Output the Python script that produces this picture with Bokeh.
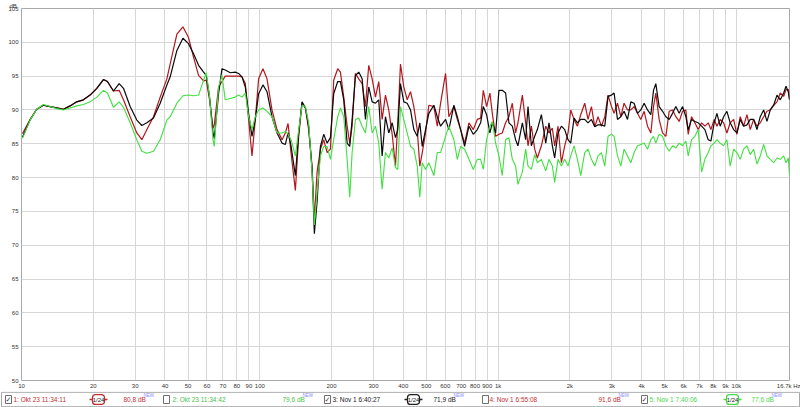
from bokeh.plotting import figure
from bokeh.models import FixedTicker, ColumnDataSource
from bokeh.layouts import column
from bokeh.embed import file_html
from bokeh.resources import INLINE
from bokeh.core.properties import value

# ---------------- data ----------------
freq = [10.1, 10.86, 11.58, 12.35, 13.17, 14.05, 14.99, 15.99, 17.05, 18.19, 19.40, 20.70,
        22.07, 22.94, 24.31, 25.69, 26.79, 28.57, 30.47, 31.99, 33.58, 35.80, 38.19, 40.74,
        42.07, 44.88, 47.58, 50.21, 52.71, 55.34, 58.08, 59.61, 61.55, 63.61, 64.41, 67.14,
        69.39, 71.61, 75.17, 78.89, 81.45, 84.18, 86.92, 89.74, 92.73, 95.74, 98.86, 103.1,
        107.2, 112.5, 118.1, 124.0, 128.0, 131.4, 135.2, 141.0, 145.6, 150.4, 155.4, 160.3,
        165.7, 169.4, 173.9, 179.6, 185.4, 191.6, 197.8,
        204.2, 212.3, 217.9, 225.0, 232.5, 238.4, 244.0, 251.9, 260.1, 268.8, 277.5, 286.5,
        296.1, 305.7, 315.6, 326.1, 336.7, 347.6, 359.3, 370.9, 379.3, 389.3, 402.0, 415.4,
        429.0, 442.9, 457.7, 469.3, 480.4, 496.0, 512.1, 537.6, 555.5, 573.6, 601.9, 621.5,
        652.3, 674.2, 696.0, 723.5, 754.3, 786.8, 817.8, 844.4,
        866.6, 894.7, 923.7, 945.4, 976.1, 1008, 1041, 1075, 1110, 1147, 1184, 1211, 1264,
        1305, 1335, 1379, 1424, 1461, 1519, 1584, 1635, 1689, 1727, 1784, 1843, 1903, 1965,
        2017, 2083, 2152, 2222, 2309, 2384, 2464, 2544, 2626, 2714, 2803, 2893, 2990, 3067,
        3169, 3272, 3378, 3491, 3604, 3721, 3845, 3969,
        4100, 4236, 4374, 4489, 4590, 4739, 4898, 5057, 5221, 5395, 5570, 5751, 5943, 6136,
        6275, 6483, 6694, 6911, 7142, 7374, 7613, 7815, 8067, 8281, 8549, 8835, 9122, 9417,
        9732, 10048, 10375, 10722, 11069, 11429, 11811, 12195, 12589, 13010, 13433, 13868,
        14332, 14798, 15276, 15788, 16145, 16507, 16700]

red_db = [86.5, 88.6, 90.1, 90.7, 90.5, 90.3, 90.1, 90.6, 91.2, 91.5, 92.2, 93.2,
          94.5, 94.2, 92.8, 92.9, 91.5, 89.0, 86.6, 85.6, 87.1, 89.0, 91.9, 94.6,
          96.8, 101.2, 102.3, 100.7, 97.8, 95.1, 94.3, 94.4, 91.5, 87.3, 87.8, 93.4,
          94.2, 95.0, 95.0, 95.0, 95.0, 94.9, 93.9, 88.6, 83.2, 88.6, 94.6, 96.1,
          94.6, 90.0, 87.1, 85.6, 86.6, 88.0, 83.7, 78.1, 86.1, 91.1, 90.3, 87.1,
          81.7, 73.9, 80.8, 84.2, 85.6, 83.7, 84.2,
          94.4, 96.1, 95.6, 91.9, 87.6, 85.1, 87.6, 95.4, 94.6, 93.9, 90.5, 96.6,
          94.6, 91.9, 94.2, 88.6, 92.2, 90.0, 86.4, 81.7, 88.1, 96.8, 93.4, 91.5,
          92.7, 90.5, 87.1, 81.7, 83.7, 86.6, 90.7, 90.5, 87.6, 91.0, 95.4, 89.0,
          90.5, 88.6, 87.1, 85.1, 88.1, 87.1, 88.6, 88.8,
          92.9, 90.5, 92.5, 89.5, 86.1, 86.4, 86.6, 88.1, 89.0, 91.0, 86.6, 88.1, 92.2,
          88.1, 84.7, 87.6, 84.2, 82.9, 84.7, 87.6, 86.6, 87.3, 84.7, 87.6, 82.2, 84.7, 86.6,
          90.0, 88.6, 87.6, 89.3, 91.0, 88.6, 90.5, 87.5, 89.0, 87.6, 89.0, 92.2, 90.5, 89.5,
          91.0, 89.0, 91.0, 90.0, 90.0, 90.5, 89.5, 88.6,
          89.8, 87.6, 86.6, 90.5, 92.5, 88.6, 86.6, 86.1, 89.8, 90.0, 89.0, 88.3, 89.8, 90.0,
          86.4, 89.0, 88.1, 87.1, 88.1, 87.6, 88.1, 87.1, 88.6, 87.6, 88.6, 88.1, 86.6, 88.1,
          88.6, 86.4, 89.0, 87.6, 89.3, 87.1, 88.6, 87.6, 88.1, 89.0, 89.8, 90.0,
          90.7, 91.2, 92.5, 92.0, 93.0, 93.0, 91.7]

black_db = [86.0, 88.5, 90.1, 90.7, 90.5, 90.3, 90.1, 90.6, 91.2, 91.5, 92.2, 93.2,
            94.5, 94.2, 92.8, 93.9, 93.2, 90.5, 88.5, 87.7, 88.1, 88.8, 91.0, 93.7,
            94.9, 98.8, 100.6, 99.8, 98.3, 96.6, 95.6, 95.1, 91.9, 86.6, 85.8, 92.4,
            96.1, 95.9, 95.5, 95.6, 95.4, 94.9, 93.4, 89.5, 86.1, 88.6, 92.4, 93.7,
            92.7, 89.0, 86.6, 85.1, 84.9, 86.6, 84.7, 80.3, 86.6, 91.2, 90.3, 87.6,
            81.2, 71.7, 76.4, 84.6, 86.4, 85.1, 85.9,
            92.4, 94.2, 94.2, 91.5, 85.1, 84.6, 88.6, 95.1, 95.6, 94.6, 88.6, 93.4,
            91.2, 91.0, 91.5, 83.2, 89.0, 86.6, 88.1, 85.9, 87.1, 93.9, 91.2, 91.0,
            90.0, 87.1, 86.1, 88.1, 84.6, 87.1, 89.5, 90.7, 89.0, 87.6, 88.6, 87.1,
            90.7, 89.0, 87.1, 84.6, 87.6, 86.4, 87.1, 88.1,
            90.5, 89.3, 86.6, 88.1, 86.6, 92.9, 92.9, 92.5, 88.1, 87.6, 85.6, 84.7, 88.1,
            85.6, 90.5, 84.7, 86.1, 87.1, 89.3, 85.1, 88.1, 84.7, 82.9, 86.6, 87.6, 87.1, 85.6,
            85.1, 88.8, 88.1, 88.6, 88.6, 88.1, 88.6, 87.5, 87.8, 87.8, 87.6, 92.0, 92.2, 92.5,
            88.6, 89.0, 89.8, 88.6, 91.2, 91.0, 89.5, 90.0,
            91.0, 90.0, 89.3, 92.9, 93.9, 90.5, 89.8, 89.0, 88.6, 89.5, 90.5, 89.5, 90.5, 89.0,
            87.1, 88.6, 88.3, 88.1, 87.6, 87.1, 85.6, 85.4, 88.1, 89.5, 87.6, 89.0, 89.8, 88.1,
            87.1, 86.6, 88.6, 87.6, 87.8, 88.6, 88.6, 87.1, 89.0, 90.0, 88.3, 90.0,
            90.7, 92.2, 91.5, 92.5, 93.5, 92.7, 91.5]

green_db = [85.8, 88.5, 90.1, 90.8, 90.5, 90.2, 90.0, 90.3, 90.6, 90.8, 91.2, 91.9,
            92.9, 92.5, 90.4, 91.2, 90.4, 88.1, 85.6, 83.9, 83.6, 83.9, 85.6, 88.5,
            89.0, 91.0, 92.1, 92.2, 92.1, 92.2, 94.4, 95.5, 91.9, 85.6, 84.6, 93.4,
            95.1, 91.5, 91.7, 91.9, 92.2, 91.9, 92.5, 89.0, 87.1, 89.0, 90.0, 90.3,
            89.8, 89.0, 86.6, 86.6, 86.8, 86.4, 85.6, 83.2, 87.1, 90.7, 90.5, 88.1,
            80.8, 73.0, 77.8, 83.2, 84.6, 84.6, 82.7,
            85.6, 89.0, 90.3, 89.0, 82.7, 77.1, 83.7, 88.6, 88.8, 87.6, 86.6, 90.5,
            86.6, 87.6, 85.1, 78.3, 83.7, 82.9, 84.4, 81.5, 81.2, 90.5, 88.6, 86.6,
            84.6, 84.2, 81.7, 77.1, 82.2, 81.2, 82.2, 80.3, 83.7, 83.7, 86.1, 87.6,
            85.6, 82.7, 84.6, 84.2, 82.7, 81.2, 82.7, 82.7,
            81.2, 85.6, 87.6, 88.3, 85.1, 83.2, 80.3, 85.6, 85.9, 82.7, 81.7, 79.0, 80.8,
            84.2, 81.7, 81.2, 83.4, 82.2, 82.7, 81.0, 82.7, 81.7, 79.3, 82.7, 81.7, 82.7, 81.7,
            83.2, 84.7, 82.7, 80.3, 83.7, 84.2, 82.7, 81.7, 83.2, 83.7, 81.7, 86.1, 86.4, 86.1,
            83.2, 81.7, 84.2, 83.2, 82.2, 83.7, 84.7, 84.9,
            85.1, 84.2, 85.6, 86.1, 85.1, 86.4, 86.1, 84.7, 83.9, 84.7, 84.4, 85.1, 84.7, 85.4,
            83.2, 85.6, 86.1, 87.1, 80.8, 82.7, 83.7, 84.7, 85.1, 85.6, 85.1, 84.7, 85.6, 81.7,
            84.2, 83.7, 82.7, 84.2, 84.7, 83.4, 84.2, 82.0, 83.2, 84.9, 83.2, 82.7,
            82.2, 82.9, 82.7, 83.2, 82.2, 82.9, 80.3]

y_ticks = [50, 55, 60, 65, 70, 75, 80, 85, 90, 95, 100, 105]
x_ticks = [10, 20, 30, 40, 50, 60, 70, 80, 90, 100, 200, 300, 400, 500, 600, 700, 800, 900,
           1000, 2000, 3000, 4000, 5000, 6000, 7000, 8000, 9000, 10000, 16700]
x_tick_labels = ["10", "20", "30", "40", "50", "60", "70", "80", "90", "100", "200", "300",
                 "400", "500", "600", "700", "800", "900", "1k", "2k", "3k", "4k", "5k", "6k",
                 "7k", "8k", "9k", "10k", "16.7k Hz"]

# legend entries
leg_names = ["1: Okt 23 11:34:11", "2: Okt 23 11:34:42", "3: Nov 1 6:40:27",
             "4: Nov 1 6:55:08", "5: Nov 1 7:40:06"]
leg_levels = ["80,8 dB", "79,6 dB", "71,9 dB", "91,6 dB", "77,6 dB"]
leg_checked = [True, False, True, False, True]
leg_smoothing = ["1/24", None, "1/24", None, "1/24"]
leg_colors = ["#c03030", "#48c048", "#202020", "#c03030", "#48d848"]

RED = "#b3161c"
BLACK = "#0a0a0a"
GREEN = "#3fe03f"
FONT = "Liberation Sans"

# ---------------- main plot ----------------
W = 800
p = figure(width=W, height=391, x_axis_type="log", x_range=(10, 16700), y_range=(50, 105),
           output_backend="svg", toolbar_location=None, title="dB",
           min_border_left=21, min_border_right=11, min_border_top=0, min_border_bottom=0)
p.background_fill_color = "white"
p.border_fill_color = "white"
p.outline_line_color = "#a8a8a8"
p.outline_line_width = 1
p.title.text_font = FONT
p.title.text_font_size = "6px"
p.title.text_font_style = "normal"
p.title.text_color = "#333333"
p.title.align = "left"
p.title.offset = -12
p.title.standoff = 0

src = ColumnDataSource(dict(f=freq, r=red_db, b=black_db, g=green_db))
p.line("f", "r", source=src, color=RED, line_width=1.2)
p.line("f", "b", source=src, color=BLACK, line_width=1.2)
p.line("f", "g", source=src, color=GREEN, line_width=1.1)

p.xaxis.ticker = FixedTicker(ticks=x_ticks)
p.xaxis.major_label_overrides = {float(t): l for t, l in zip(x_ticks, x_tick_labels)}
p.yaxis.ticker = FixedTicker(ticks=y_ticks)
p.xgrid.ticker = FixedTicker(ticks=x_ticks)
p.ygrid.ticker = FixedTicker(ticks=y_ticks)
for g in (p.xgrid, p.ygrid):
    g.grid_line_color = "#d6d6d6"
    g.grid_line_width = 1
for ax in (p.xaxis, p.yaxis):
    ax.axis_line_color = None
    ax.major_tick_line_color = None
    ax.minor_tick_line_color = None
    ax.major_tick_out = 0
    ax.major_tick_in = 0
    ax.major_label_text_font = FONT
    ax.major_label_text_font_size = "6px"
    ax.major_label_text_color = "#333333"
p.xaxis.major_label_standoff = 2
p.yaxis.major_label_standoff = 3

# ---------------- legend strip ----------------
lg = figure(width=W, height=16, x_range=(0, 800), y_range=(0, 1),
            output_backend="svg", toolbar_location=None,
            x_axis_location=None, y_axis_location=None,
            min_border_left=0, min_border_right=0, min_border_top=0, min_border_bottom=0)
lg.grid.visible = False
lg.outline_line_color = None
lg.background_fill_color = "white"
lg.border_fill_color = "white"
lg.quad(left=[1], right=[799], bottom=[0.05], top=[0.95], fill_color="white",
        line_color="#a8a8a8", line_width=1)

box_x = [8, 166, 327, 485, 644]
name_x = [13, 172, 332, 489, 649]
icon_x = [98, None, 413, None, 732]
level_x = [123, 282, 433, 598, 751]

# checkboxes
lg.rect(x=box_x, y=[0.5] * 5, width=6, height=0.5, fill_color="white",
        line_color="#707070", line_width=1)
chk_x = [bx for bx, c in zip(box_x, leg_checked) if c]
lg.text(x=chk_x, y=[0.47] * len(chk_x), text=["✓"] * len(chk_x),
        text_font=value("DejaVu Sans"), text_font_size="7px", text_align="center",
        text_baseline="middle", text_color="#404040")

# names
lg.text(x=name_x, y=[0.5] * 5, text=leg_names, text_color=leg_colors,
        text_font=value(FONT), text_font_size="6.5px", text_baseline="middle")

# smoothing icons
ix = [x for x in icon_x if x is not None]
icol = [c for x, c in zip(icon_x, leg_colors) if x is not None]
itxt = [s for s in leg_smoothing if s is not None]
lg.segment(x0=[x - 9 for x in ix], x1=[x + 9 for x in ix], y0=[0.5] * len(ix),
           y1=[0.5] * len(ix), line_color=icol, line_width=1.3)
lg.rect(x=ix, y=[0.5] * len(ix), width=12, height=0.62, fill_color="white",
        line_color=icol, line_width=1.3, border_radius=3)
lg.text(x=ix, y=[0.5] * len(ix), text=itxt, text_color="#202020",
        text_font=value(FONT), text_font_size="6px", text_align="center",
        text_baseline="middle")

# levels + NEW
lg.text(x=level_x, y=[0.5] * 5, text=leg_levels, text_color=leg_colors,
        text_font=value(FONT), text_font_size="6.5px", text_baseline="middle")
lg.text(x=[x + 20 for x in level_x], y=[0.72] * 5, text=["NEW"] * 5, text_color="#8a8aff",
        text_font=value(FONT), text_font_size="4.5px", text_baseline="middle")

layout = column(p, column(lg, spacing=0), spacing=0)
open("out.html", "w").write(file_html(layout, INLINE))
